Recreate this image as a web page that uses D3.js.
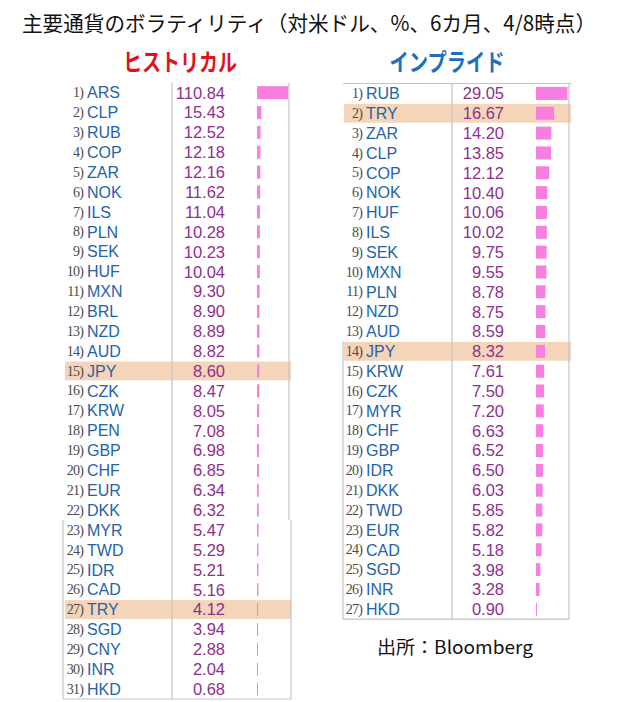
<!DOCTYPE html>
<html>
<head>
<meta charset="utf-8">
<script src="https://cdn.jsdelivr.net/npm/d3@7"></script>
<style>
  body { margin: 0; background: #fff; }
  svg { display: block; }
</style>
</head>
<body>
<div id="chart"></div>
<script>
// Chart data
const titleText = "主要通貨のボラティリティ（対米ドル、%、6カ月、4/8時点）";
const histTitle = "ヒストリカル";
const impTitle = "インプライド";
const sourceText = "出所：Bloomberg";

const histCodes = ["ARS","CLP","RUB","COP","ZAR","NOK","ILS","PLN","SEK","HUF","MXN","BRL","NZD","AUD","JPY","CZK","KRW","PEN","GBP","CHF","EUR","DKK","MYR","TWD","IDR","CAD","TRY","SGD","CNY","INR","HKD"];
const histValues = [110.84,15.43,12.52,12.18,12.16,11.62,11.04,10.28,10.23,10.04,9.30,8.90,8.89,8.82,8.60,8.47,8.05,7.08,6.98,6.85,6.34,6.32,5.47,5.29,5.21,5.16,4.12,3.94,2.88,2.04,0.68];

const impCodes = ["RUB","TRY","ZAR","CLP","COP","NOK","HUF","ILS","SEK","MXN","PLN","NZD","AUD","JPY","KRW","CZK","MYR","CHF","GBP","IDR","DKK","TWD","EUR","CAD","SGD","INR","HKD"];
const impValues = [29.05,16.67,14.20,13.85,12.12,10.40,10.06,10.02,9.75,9.55,8.78,8.75,8.59,8.32,7.61,7.50,7.20,6.63,6.52,6.50,6.03,5.85,5.82,5.18,3.98,3.28,0.90];

const highlightCodes = ["JPY","TRY"];

const width = 621, height = 702;
const codeFont = "'Liberation Sans Narrow', 'Arial Narrow', 'Liberation Sans', sans-serif";
const jpFont = "'Noto Sans CJK JP', 'Noto Sans', sans-serif";

const svg = d3.select("#chart").append("svg")
    .attr("width", width)
    .attr("height", height);

// Title
svg.append("text")
    .attr("x", 22).attr("y", 31)
    .attr("textLength", 574).attr("lengthAdjust", "spacingAndGlyphs")
    .style("font-family", jpFont).style("font-size", "21px")
    .attr("fill", "#111")
    .text(titleText);

function drawTable(cfg) {
    const rows = cfg.codes.map((c, i) => ({ rank: i + 1, code: c, value: cfg.values[i] }));
    const y = d3.scaleBand()
        .domain(rows.map(d => d.rank))
        .range([cfg.top, cfg.top + rows.length * cfg.rowH]);
    const x = d3.scaleLinear()
        .domain([0, d3.max(cfg.values)])
        .range([0, cfg.barMax]);

    const g = svg.append("g");

    // Heading
    svg.append("text")
        .attr("x", cfg.headX).attr("y", 71)
        .attr("text-anchor", "middle")
        .attr("textLength", cfg.headLen).attr("lengthAdjust", "spacingAndGlyphs")
        .style("font-family", jpFont).style("font-size", "24px").style("font-weight", "bold")
        .attr("fill", cfg.headColor)
        .text(cfg.heading);

    // Highlighted rows
    g.selectAll(".hl")
        .data(rows.filter(d => highlightCodes.includes(d.code)))
      .enter().append("rect")
        .attr("x", cfg.hlLeft)
        .attr("y", d => y(d.rank) + 0.5)
        .attr("width", cfg.hlRight - cfg.hlLeft)
        .attr("height", y.bandwidth() - 1)
        .attr("fill", "#f5d5b9");

    // Lines
    const lineColor = "#c4c4c4";
    const bottom = y.range()[1];
    const split = y(cfg.splitRank);
    const lines = [
        [cfg.sepX, cfg.top, cfg.sepX, bottom],
        [cfg.rightX, cfg.top, cfg.rightX, split],
        [cfg.rightX2, split, cfg.rightX2, bottom],
        [cfg.leftX, split, cfg.leftX, bottom],
        [cfg.leftX, bottom, cfg.rightX2, bottom]
    ];
    if (cfg.topLine) lines.push([cfg.leftX, cfg.top, cfg.rightX + 3, cfg.top]);
    g.selectAll(".ln")
        .data(lines)
      .enter().append("line")
        .attr("x1", d => d[0]).attr("y1", d => d[1])
        .attr("x2", d => d[2]).attr("y2", d => d[3])
        .attr("stroke", lineColor)
        .attr("stroke-width", 1.2);

    const row = g.selectAll(".row")
        .data(rows)
      .enter().append("g")
        .attr("transform", d => `translate(0,${y(d.rank) + y.bandwidth() / 2})`);

    row.append("text")
        .attr("x", cfg.rankX).attr("dy", "0.33em")
        .attr("text-anchor", "end")
        .style("font-family", "'Liberation Serif', serif").style("font-size", "14px")
        .style("letter-spacing", "-0.8px")
        .attr("fill", "#4a4a4a")
        .text(d => d.rank + ")");

    row.append("text")
        .attr("x", cfg.codeX).attr("dy", "0.36em")
        .style("font-family", codeFont).style("font-size", "16px")
        .attr("fill", "#2463a8")
        .text(d => d.code);

    row.append("text")
        .attr("x", cfg.valueX).attr("dy", "0.36em")
        .attr("text-anchor", "end")
        .style("font-family", codeFont).style("font-size", "16.5px")
        .attr("fill", "#8e2f8e")
        .text(d => d.value.toFixed(2));

    row.append("rect")
        .attr("x", cfg.barX)
        .attr("y", -6.5)
        .attr("width", d => Math.max(1, x(d.value)))
        .attr("height", 13)
        .attr("fill", "#f77fe0");
}

drawTable({
    codes: histCodes, values: histValues,
    top: 82.7, rowH: 19.88, splitRank: 23,
    heading: histTitle, headX: 180, headLen: 114, headColor: "#e3101b",
    rankX: 83, codeX: 87, valueX: 225, barX: 257, barMax: 31,
    sepX: 172, rightX: 289, rightX2: 291, leftX: 63,
    hlLeft: 65, hlRight: 291, topLine: false
});

drawTable({
    codes: impCodes, values: impValues,
    top: 83.5, rowH: 19.84, splitRank: 14,
    heading: impTitle, headX: 447, headLen: 115, headColor: "#1d6fbf",
    rankX: 362, codeX: 366, valueX: 504, barX: 536, barMax: 31.5,
    sepX: 452, rightX: 569, rightX2: 569, leftX: 343,
    hlLeft: 344, hlRight: 571, topLine: true
});

// Source
svg.append("text")
    .attr("x", 377).attr("y", 654)
    .attr("textLength", 156).attr("lengthAdjust", "spacingAndGlyphs")
    .style("font-family", jpFont).style("font-size", "18px")
    .attr("fill", "#111")
    .text(sourceText);
</script>
</body>
</html>
